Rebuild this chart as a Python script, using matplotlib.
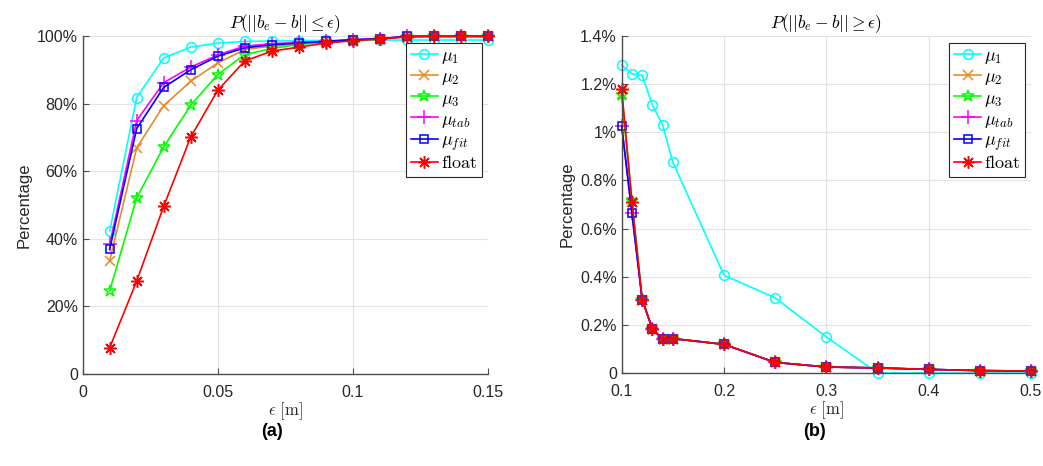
import numpy as np
import matplotlib
matplotlib.use('Agg')
from matplotlib import pyplot as plt
from matplotlib.ticker import FuncFormatter

plt.rcParams['mathtext.fontset'] = 'cm'
plt.rcParams['font.family'] = ['Liberation Sans', 'DejaVu Sans']

# (a) P(||b_e - b|| <= eps), in percent
eps_a = [0.01, 0.02, 0.03, 0.04, 0.05, 0.06, 0.07, 0.08, 0.09, 0.10, 0.11, 0.12, 0.13, 0.14, 0.15]
mu1_a = [42.3, 81.8, 93.5, 96.7, 97.9, 98.4, 98.5, 98.6, 98.7, 98.8, 98.8, 98.8, 98.8, 98.8, 98.8]
mu2_a = [33.5, 66.9, 79.4, 86.6, 92.0, 96.0, 97.0, 97.7, 98.2, 98.8, 99.0, 99.7, 99.9, 99.9, 99.9]
mu3_a = [24.6, 52.1, 67.2, 79.5, 88.6, 94.5, 96.3, 97.5, 98.1, 98.6, 99.1, 99.8, 99.9, 99.9, 99.9]
mutab_a = [38.4, 75.0, 86.2, 90.8, 94.4, 97.0, 97.7, 98.1, 98.4, 98.9, 99.2, 99.9, 99.9, 99.9, 99.9]
mufit_a = [37.0, 72.6, 84.8, 90.0, 94.0, 96.5, 97.4, 97.9, 98.4, 98.9, 99.2, 99.9, 99.9, 99.9, 99.9]
float_a = [7.8, 27.5, 49.6, 70.1, 83.9, 92.6, 95.5, 96.7, 97.9, 98.6, 99.1, 99.8, 99.9, 99.9, 99.9]

# (b) P(||b_e - b|| >= eps), in percent
eps_b = [0.10, 0.11, 0.12, 0.13, 0.14, 0.15, 0.20, 0.25, 0.30, 0.35, 0.40, 0.45, 0.50]
mu1_b = [1.279, 1.243, 1.236, 1.113, 1.031, 0.875, 0.406, 0.312, 0.150, 0.0, 0.0, 0.0, 0.0]
mu2_b = [1.160, 0.712, 0.305, 0.183, 0.141, 0.143, 0.119, 0.044, 0.025, 0.021, 0.015, 0.010, 0.008]
mu3_b = [1.153, 0.715, 0.305, 0.183, 0.141, 0.143, 0.119, 0.044, 0.025, 0.021, 0.015, 0.010, 0.008]
mutab_b = [1.026, 0.663, 0.305, 0.183, 0.141, 0.143, 0.119, 0.044, 0.025, 0.021, 0.015, 0.010, 0.008]
mufit_b = [1.026, 0.663, 0.305, 0.183, 0.141, 0.143, 0.119, 0.044, 0.025, 0.021, 0.015, 0.010, 0.008]
float_b = [1.178, 0.711, 0.305, 0.183, 0.141, 0.143, 0.119, 0.044, 0.025, 0.021, 0.015, 0.010, 0.008]

labels = [r'$\mu_1$', r'$\mu_2$', r'$\mu_3$', r'$\mu_{tab}$', r'$\mu_{fit}$', r'$\mathrm{float}$']
colors = ['#00FFFF', '#E58A2E', '#00FF00', '#FF00FF', '#0000FF', '#FF0000']
markers = ['o', 'x', '*', '+', 's', (8, 2, 0)]
msizes = [7, 7, 9, 10, 6, 9]

fig = plt.figure(figsize=(10.43, 4.66), dpi=100)
ax1 = fig.add_axes([82.7 / 1043, 1 - 374 / 466, 405 / 1043, 338 / 466])
ax2 = fig.add_axes([621.7 / 1043, 1 - 373 / 466, 409.3 / 1043, 337 / 466])

def pct(v, pos):
    if abs(v) < 1e-9:
        return '0'
    s = ('%.1f' % v).rstrip('0').rstrip('.')
    return s + '%'

def style(ax):
    ax.grid(True, color='#e3e3e3', linewidth=0.8)
    ax.set_axisbelow(True)
    for s in ['top', 'right']:
        ax.spines[s].set_visible(False)
    for s in ['left', 'bottom']:
        ax.spines[s].set_color('#4d4d4d')
        ax.spines[s].set_linewidth(1.0)
    ax.tick_params(direction='in', length=4, colors='#4d4d4d', labelcolor='#262626', labelsize=11.5)
    ax.tick_params(axis='x', pad=8)
    ax.set_ylabel('Percentage', fontsize=12, color='#262626')
    ax.set_xlabel(r'$\epsilon\ \mathrm{[m]}$', fontsize=12, color='#262626', labelpad=0)

series_a = [mu1_a, mu2_a, mu3_a, mutab_a, mufit_a, float_a]
series_b = [mu1_b, mu2_b, mu3_b, mutab_b, mufit_b, float_b]
for ax, eps, series in ((ax1, eps_a, series_a), (ax2, eps_b, series_b)):
    for ys, lab, c, m, ms in zip(series, labels, colors, markers, msizes):
        ax.plot(eps, ys, color=c, marker=m, markersize=ms, markerfacecolor='none',
                markeredgewidth=1.1, linewidth=1.2, label=lab, clip_on=False)

ax1.set_xlim(0, 0.15)
ax1.set_ylim(0, 100)
ax1.set_xticks([0, 0.05, 0.1, 0.15])
ax1.set_xticklabels(['0', '0.05', '0.1', '0.15'])
ax1.set_yticks([0, 20, 40, 60, 80, 100])
ax1.yaxis.set_major_formatter(FuncFormatter(pct))
ax1.set_title(r'$P(||b_e - b|| \leq \epsilon)$', fontsize=12.5, pad=6)
style(ax1)

ax2.set_xlim(0.1, 0.5)
ax2.set_ylim(0, 1.4)
ax2.set_xticks([0.1, 0.2, 0.3, 0.4, 0.5])
ax2.set_xticklabels(['0.1', '0.2', '0.3', '0.4', '0.5'])
ax2.set_yticks([0, 0.2, 0.4, 0.6, 0.8, 1.0, 1.2, 1.4])
ax2.yaxis.set_major_formatter(FuncFormatter(pct))
ax2.set_title(r'$P(||b_e - b|| \geq \epsilon)$', fontsize=12.5, pad=6)
style(ax2)

for ax in (ax1, ax2):
    leg = ax.legend(loc='upper right', bbox_to_anchor=(0.985, 0.98), fontsize=13,
                    fancybox=False, framealpha=1, edgecolor='#262626',
                    handlelength=1.5, handletextpad=0.15, borderpad=0.25,
                    labelspacing=0.12, borderaxespad=0.0)
    leg.get_frame().set_linewidth(0.8)

fig.text(272 / 1043, 1 - 431 / 466, '(a)', fontsize=13, fontweight='bold', ha='center', va='center')
fig.text(814 / 1043, 1 - 431 / 466, '(b)', fontsize=13, fontweight='bold', ha='center', va='center')

fig.savefig('out.png', dpi=100)
